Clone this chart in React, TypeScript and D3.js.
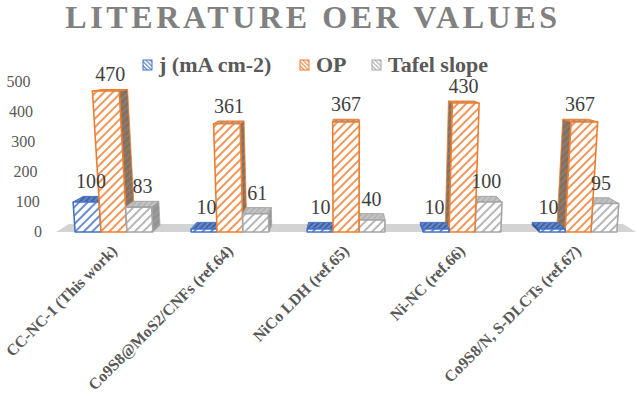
import React from "react";
import * as d3 from "d3";

const categories = [
  "CC-NC-1 (This work)",
  "Co9S8@MoS2/CNFs (ref.64)",
  "NiCo LDH (ref.65)",
  "Ni-NC (ref.66)",
  "Co9S8/N, S-DLCTs (ref.67)",
];
const seriesNames = ["j (mA cm-2)", "OP", "Tafel slope"];
const jValues = [100, 10, 10, 10, 10];
const opValues = [470, 361, 367, 430, 367];
const tafelValues = [83, 61, 40, 100, 95];
const yTicks = [0, 100, 200, 300, 400, 500];

const W = 639;
const H = 400;
const FLOOR_Y = 232;
const FONT = "Liberation Serif";

// excel-ish 3d look: depth converges to a vanishing point, verticals lean out a bit
const VX = 346;
const VY = 50;
const DEPTH = 0.037;
const LEAN = 0.00025;

const styles = [
  { color: "#4472c4", top: "#3d63ad", side: "#2f4d85" },
  { color: "#ed7d31", top: "#b08a72", side: "#85705f" },
  { color: "#a5a5a5", top: "#b3b3b3", side: "#939393" },
];

const legendX = [143, 300, 372];

const y = d3.scaleLinear().domain([0, 500]).range([FLOOR_Y, 82]);
const x0 = d3
  .scaleBand<string>()
  .domain(categories)
  .range([56, 636])
  .paddingInner(0.33)
  .paddingOuter(0.165);
const x1 = d3.scaleBand<string>().domain(seriesNames).range([0, x0.bandwidth()]);

function proj(x: number, v: number, z: number): [number, number] {
  const h = FLOOR_Y - y(v);
  const fx = x + (x - VX) * LEAN * h;
  const fy = FLOOR_Y - h;
  return [fx + DEPTH * z * (VX - fx), fy + DEPTH * z * (VY - fy)];
}

const pts = (p: [number, number][]) => p.map((d) => d.join(",")).join(" ");

export default function App() {
  const allValues = [jValues, opValues, tafelValues];

  const groups = categories.map((cat, ci) => {
    const bars = seriesNames.map((s, si) => {
      const xa = (x0(cat) as number) + (x1(s) as number);
      const xb = xa + x1.bandwidth();
      return { si, xa, xb, v: allValues[si][ci], mid: (xa + xb) / 2 };
    });
    // farthest from the centre first so nearer bars cover their side faces
    bars.sort((a, b) => Math.abs(b.mid - VX) - Math.abs(a.mid - VX));
    return { cat, bars };
  });

  const floor = [proj(56, 0, 0), proj(636, 0, 0), proj(636, 0, 1.2), proj(56, 0, 1.2)];

  return (
    <svg
      width={W}
      height={H}
      style={{ position: "absolute", left: 0, top: 0, background: "#fff", fontFamily: FONT }}
    >
      <defs>
        {styles.map((st, i) => (
          <g key={i}>
            <pattern id={`front${i}`} width={6} height={6} patternUnits="userSpaceOnUse" patternTransform="rotate(45)">
              <rect width={6} height={6} fill="#fff" />
              <line x1={1} y1={0} x2={1} y2={6} stroke={st.color} strokeWidth={1.6} />
            </pattern>
            <pattern id={`top${i}`} width={4} height={4} patternUnits="userSpaceOnUse" patternTransform="rotate(45)">
              <rect width={4} height={4} fill={st.top} />
              <line x1={1} y1={0} x2={1} y2={4} stroke="#fff" strokeOpacity={0.45} strokeWidth={1} />
            </pattern>
            <pattern id={`side${i}`} width={5} height={5} patternUnits="userSpaceOnUse" patternTransform="rotate(45)">
              <rect width={5} height={5} fill={st.side} />
              <line x1={1} y1={0} x2={1} y2={5} stroke="#fff" strokeOpacity={0.15} strokeWidth={1} />
            </pattern>
            <pattern id={`legend${i}`} width={3} height={3} patternUnits="userSpaceOnUse" patternTransform="rotate(-45)">
              <rect width={3} height={3} fill="#fff" />
              <line x1={0.7} y1={0} x2={0.7} y2={3} stroke={st.color} strokeWidth={1.1} />
            </pattern>
          </g>
        ))}
      </defs>

      {/* title */}
      <text
        x={313}
        y={28}
        textAnchor="middle"
        fontSize={32}
        fontWeight="bold"
        letterSpacing={3.6}
        fill="#808080"
        fontFamily={FONT}
      >
        LITERATURE OER VALUES
      </text>

      {/* legend */}
      {seriesNames.map((s, i) => (
        <g key={s}>
          <rect
            x={legendX[i]}
            y={60}
            width={9}
            height={10}
            fill={`url(#legend${i})`}
            stroke={styles[i].color}
            strokeWidth={1}
          />
          <text x={legendX[i] + 16} y={72} fontSize={22} fontWeight="bold" fill="#595959" fontFamily={FONT}>
            {s}
          </text>
        </g>
      ))}

      {/* y axis labels */}
      {yTicks.map((t) => {
        const [lx, ly] = proj(42, t, 0);
        return (
          <text key={t} x={lx} y={ly + 5} textAnchor="end" fontSize={16} fill="#595959" fontFamily={FONT}>
            {t}
          </text>
        );
      })}

      {/* floor */}
      <polygon points={pts(floor)} fill="#d3d3d3" />

      {/* bars */}
      {groups.map((g) => (
        <g key={g.cat}>
          {g.bars.map((b) => {
            const st = styles[b.si];
            const rightSide = b.mid < VX;
            const sx = rightSide ? b.xb : b.xa;
            const front = [proj(b.xa, 0, 0), proj(b.xb, 0, 0), proj(b.xb, b.v, 0), proj(b.xa, b.v, 0)];
            const top = [proj(b.xa, b.v, 0), proj(b.xb, b.v, 0), proj(b.xb, b.v, 1), proj(b.xa, b.v, 1)];
            const side = [proj(sx, 0, 0), proj(sx, b.v, 0), proj(sx, b.v, 1), proj(sx, 0, 1)];
            return (
              <g key={b.si}>
                <polygon points={pts(side)} fill={`url(#side${b.si})`} stroke={st.color} strokeWidth={0.8} strokeLinejoin="round" />
                <polygon points={pts(top)} fill={`url(#top${b.si})`} stroke={st.color} strokeWidth={1} strokeLinejoin="round" />
                <polygon points={pts(front)} fill={`url(#front${b.si})`} stroke={st.color} strokeWidth={1.6} strokeLinejoin="round" />
              </g>
            );
          })}
        </g>
      ))}

      {/* data labels */}
      {groups.map((g) =>
        g.bars.map((b) => {
          const [ax, ay] = proj(b.xa, b.v, 1);
          const [bx] = proj(b.xb, b.v, 0);
          const [cx] = proj(b.xa, b.v, 0);
          const [dx] = proj(b.xb, b.v, 1);
          return (
            <text
              key={g.cat + b.si}
              x={(ax + bx + cx + dx) / 4}
              y={ay - 8}
              textAnchor="middle"
              fontSize={20}
              fill="#404040"
              fontFamily={FONT}
            >
              {b.v}
            </text>
          );
        })
      )}

      {/* category labels */}
      {categories.map((c) => {
        const cx = (x0(c) as number) + x0.bandwidth() / 2;
        return (
          <text
            key={c}
            transform={`translate(${cx + 4},${252}) rotate(-45)`}
            textAnchor="end"
            fontSize={16}
            fontWeight="bold"
            fill="#595959"
            fontFamily={FONT}
          >
            {c}
          </text>
        );
      })}
    </svg>
  );
}
